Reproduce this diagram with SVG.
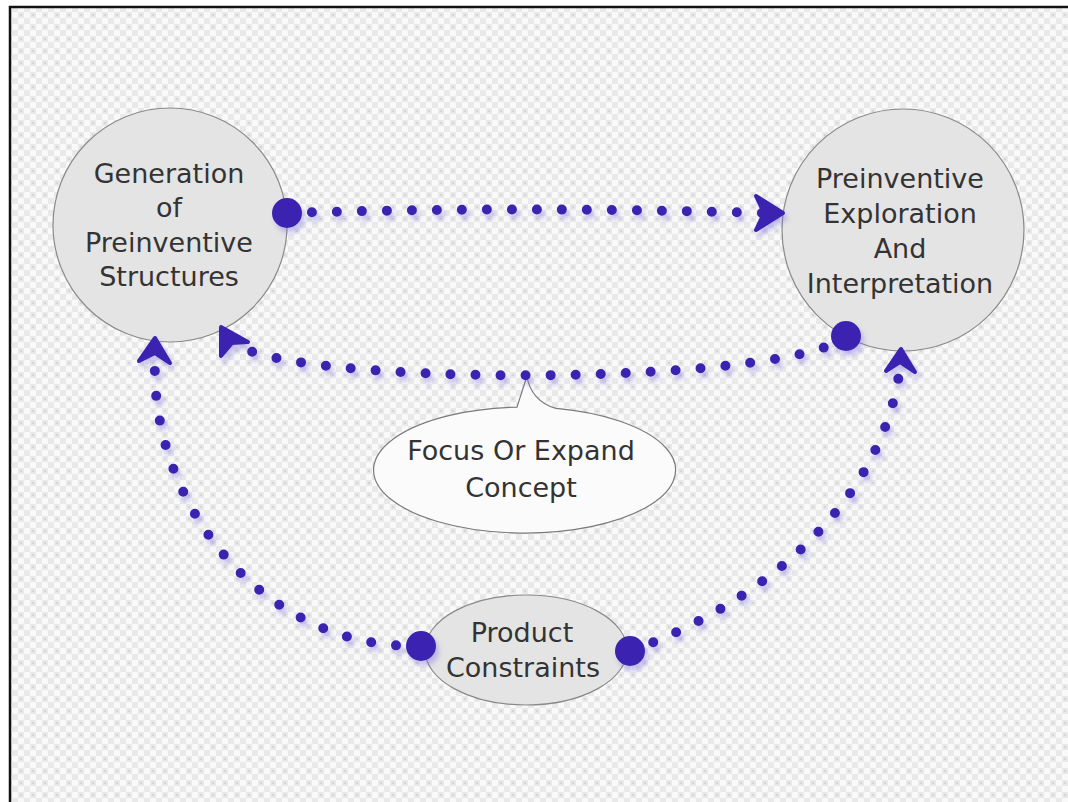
<svg xmlns="http://www.w3.org/2000/svg" width="1068" height="802" viewBox="0 0 1068 802">
<style>
.node{fill:#e4e4e4;stroke:#8a8a8a;stroke-width:1.2}
.bubble{fill:#fbfbfb;stroke:#7a7a7a;stroke-width:1.2}
.lbl{font-family:"DejaVu Sans","Liberation Sans",sans-serif;font-size:27px;fill:#333333;text-anchor:middle}
.dots{fill:none;stroke:#3a24b0;stroke-width:10;stroke-linecap:round;stroke-dasharray:0 25}
.end{fill:#3a24b0}
.head{fill:#3a24b0;stroke:#3a24b0;stroke-width:4;stroke-linejoin:round}
</style>
<defs>
<pattern id="bg" width="12" height="12" patternUnits="userSpaceOnUse">
<rect width="12" height="12" fill="#e9e9e9"/>
<rect width="6" height="6" fill="#f9f9f9"/>
<rect x="6" y="6" width="6" height="6" fill="#f9f9f9"/>
<circle cx="9" cy="3" r="1.3" fill="#d6d6d6"/>
</pattern>
<filter id="sh" x="-10%" y="-10%" width="130%" height="130%">
<feDropShadow dx="3" dy="5" stdDeviation="2.5" flood-color="#7b6fe0" flood-opacity="0.4"/>
</filter>
</defs>
<rect width="1068" height="802" fill="#ffffff"/>
<rect x="10" y="7" width="1058" height="795" fill="url(#bg)"/>
<path d="M10 802 V7 H1068" fill="none" stroke="#111" stroke-width="2.5"/>

<g id="node-generation">
<circle class="node" cx="170" cy="225" r="117"/>
<text class="lbl" x="169" y="183">Generation</text>
<text class="lbl" x="169" y="217">of</text>
<text class="lbl" x="169" y="252">Preinventive</text>
<text class="lbl" x="169" y="286">Structures</text>
</g>

<g id="node-exploration">
<circle class="node" cx="903" cy="230" r="121"/>
<text class="lbl" x="900" y="188">Preinventive</text>
<text class="lbl" x="900" y="223">Exploration</text>
<text class="lbl" x="900" y="258">And</text>
<text class="lbl" x="900" y="293">Interpretation</text>
</g>

<g id="node-constraints">
<ellipse class="node" cx="526" cy="650" rx="101" ry="55"/>
<text class="lbl" x="522" y="642">Product</text>
<text class="lbl" x="523" y="677">Constraints</text>
</g>

<g id="callout-focus">
<path class="bubble" d="M517 407.1 L527 376 C529 392 540 404 556 408.4 A151 63 0 1 1 517 407.1 Z"/>
<text class="lbl" x="521" y="460">Focus Or Expand</text>
<text class="lbl" x="521" y="497">Concept</text>
</g>

<g id="connectors" filter="url(#sh)">
<path class="dots" d="M287 213 Q520 206 762 213"/>
<polygon class="head" points="783,213 756,196 764,213 756,230"/>
<circle class="end" cx="287" cy="213" r="15"/>

<path class="dots" d="M846 337 C780 387 290 387 234 343"/>
<polygon class="head" points="221,327 248,342 232,343 221,356"/>
<circle class="end" cx="846" cy="336" r="15"/>

<path class="dots" d="M421 646 C260 650 150 500 155 360"/>
<polygon class="head" points="155,338 170,363 155,353 139,361"/>
<circle class="end" cx="421" cy="646" r="15"/>

<path class="dots" d="M630 651 C720 620 878 530 900 368"/>
<polygon class="head" points="901,349 915,372 900,362 886,371"/>
<circle class="end" cx="630" cy="651" r="15"/>
</g>
</svg>
